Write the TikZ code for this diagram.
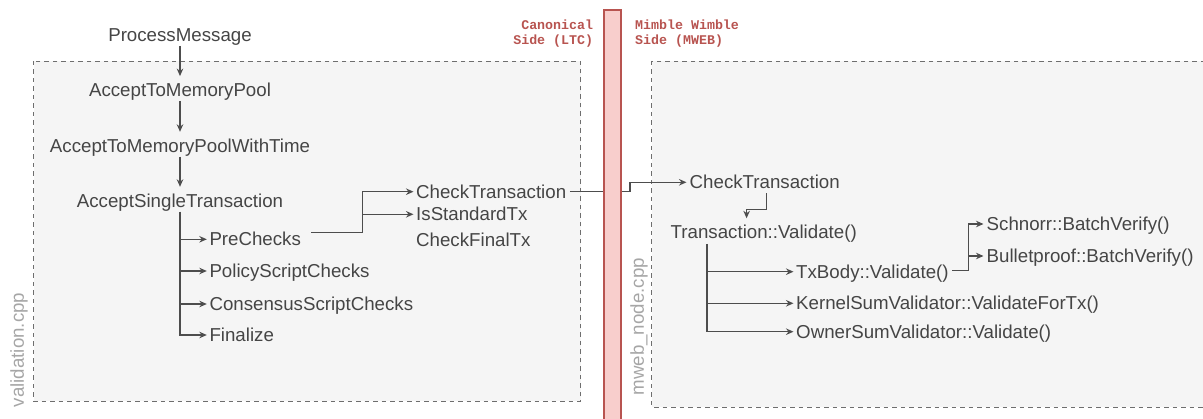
\documentclass[tikz,border=0pt]{standalone}
\usepackage{fontspec}
\setmainfont{Liberation Sans}
\newfontfamily\monob{Liberation Mono}
\usetikzlibrary{arrows.meta}
\definecolor{tc}{HTML}{454545}
\definecolor{lc}{HTML}{4D4D4D}
\definecolor{boxfill}{HTML}{F5F5F5}
\definecolor{boxline}{HTML}{6E6E6E}
\definecolor{redline}{HTML}{B85450}
\definecolor{redfill}{HTML}{F8CECC}
\definecolor{filec}{HTML}{A6A6A6}
\begin{document}
\begin{tikzpicture}[x=1pt,y=-1pt,
  txt/.style={font=\fontsize{18.7}{22}\selectfont, text=tc, inner sep=0pt, text height=13.4pt, text depth=0pt},
  lft/.style={txt, anchor=west},
  arr/.style={draw=lc, line width=1.5pt, -{Stealth[length=7.5pt,width=6.5pt]}},
  filebox/.style={draw=boxline, fill=boxfill, line width=0.9pt, dash pattern=on 4.5pt off 4pt},
  side/.style={font=\monob\bfseries\fontsize{13.3}{15.3}\selectfont, text=redline, inner sep=0pt},
  fname/.style={font=\fontsize{18.7}{22}\selectfont, text=filec, inner sep=0pt, rotate=90}
]
\useasboundingbox (0,0) rectangle (1203,419);

% file boxes
\draw[filebox] (33.7,61) rectangle (580.5,401.5);
\draw[filebox] (651.7,61) rectangle (1220,407);
\node[fname] (vcpp) at (19,350) {validation.cpp};
\node[fname] (mcpp) at (639,326.7) {mweb\_node.cpp};

% left column
\node[txt] (pm) at (180,35) {ProcessMessage};
\node[txt] (atmp) at (180,90) {AcceptToMemoryPool};
\node[txt] (atmpwt) at (180,145.7) {AcceptToMemoryPoolWithTime};
\node[txt] (ast) at (180,200.7) {AcceptSingleTransaction};
\node[lft] (pre) at (209.3,239.3) {PreChecks};
\node[lft] (pol) at (209.3,271) {PolicyScriptChecks};
\node[lft] (cons) at (209.3,304) {ConsensusScriptChecks};
\node[lft] (fin) at (209.3,335) {Finalize};
\node[lft] (ct1) at (416,191.7) {CheckTransaction};
\node[lft] (ist) at (416,214.3) {IsStandardTx};
\node[lft] (cft) at (416,240) {CheckFinalTx};

\draw[arr] ([yshift=-4pt]pm.south) -- ([yshift=7pt]atmp.north);
\draw[arr] ([yshift=-4pt]atmp.south) -- ([yshift=7pt]atmpwt.north);
\draw[arr] ([yshift=-4pt]atmpwt.south) -- ([yshift=7pt]ast.north);
\draw[arr] ([yshift=-4pt]ast.south) |- ([xshift=-2.5pt]fin.west);
\draw[arr] (ast.south |- pre.west) -- ([xshift=-2.5pt]pre.west);
\draw[arr] (ast.south |- pol.west) -- ([xshift=-2.5pt]pol.west);
\draw[arr] (ast.south |- cons.west) -- ([xshift=-2.5pt]cons.west);

\coordinate (j1) at (362.7,210);
\draw[arr] ([xshift=10pt]pre.north east) -| (j1) |- ([xshift=-2.5pt]ct1.west);
\draw[arr] (j1 |- ist.west) -- ([xshift=-2.5pt]ist.west);

% right column
\node[lft] (ct2) at (689.5,182.3) {CheckTransaction};
\node[lft] (tv) at (670.5,232.3) {Transaction::Validate()};
\node[lft] (txb) at (796,271.7) {TxBody::Validate()};
\node[lft] (ksv) at (796,303.3) {KernelSumValidator::ValidateForTx()};
\node[lft] (osv) at (796,331.7) {OwnerSumValidator::Validate()};
\node[lft] (sch) at (986.5,224) {Schnorr::BatchVerify()};
\node[lft] (bp) at (986.5,256) {Bulletproof::BatchVerify()};

% crossing connector (under the bar)
\coordinate (j2) at (630,186);
\draw[arr] ([xshift=3.5pt]ct1.east) -| (j2) |- ([xshift=-3pt]ct2.west);

\coordinate (j3) at (746.6,209.3);
\coordinate (j3b) at (746.6,218.3);
\draw[arr] ([xshift=2pt,yshift=-4pt]ct2.south) |- (j3) -- (j3b);

\coordinate (j4) at (707,244);
\draw[arr] (j4) |- ([xshift=-2.5pt]osv.west);
\draw[arr] (j4 |- txb.west) -- ([xshift=-2.5pt]txb.west);
\draw[arr] (j4 |- ksv.west) -- ([xshift=-2.5pt]ksv.west);

\coordinate (j5) at (968.5,240);
\draw[arr] ([xshift=3.5pt,yshift=1pt]txb.east) -| (j5) |- ([xshift=-3pt]sch.west);
\draw[arr] (j5 |- bp.west) -- ([xshift=-3pt]bp.west);

% boundary bar
\draw[draw=redline, fill=redfill, line width=2pt] (604.3,10) rectangle (620.7,440);
\node[side, align=right, anchor=east] (canon) at (593.3,33.3) {Canonical\\Side (LTC)};
\node[side, align=left, anchor=west] (mimble) at (635,33.3) {Mimble Wimble\\Side (MWEB)};
\end{tikzpicture}
\end{document}
